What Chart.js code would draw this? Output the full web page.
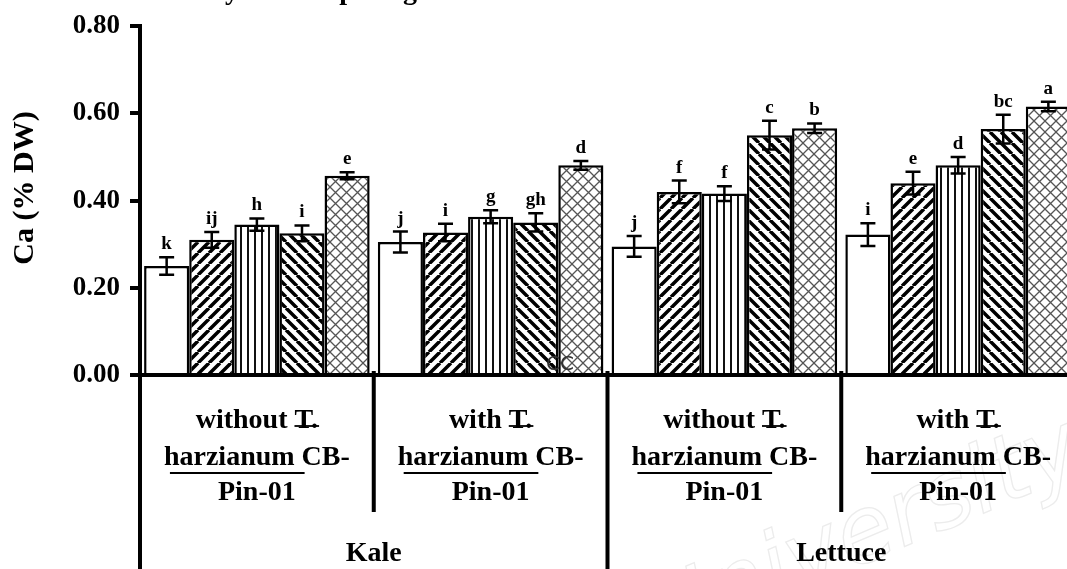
<!DOCTYPE html>
<html>
<head>
<meta charset="utf-8">
<script src="https://cdn.jsdelivr.net/npm/chart.js@4"></script>
<style>
  html, body { margin: 0; padding: 0; background: #fff; overflow: hidden; }
  #wrap { position: relative; width: 1075px; height: 569px; }
</style>
</head>
<body>
<div id="wrap"><canvas id="chart"></canvas></div>
<script>
// categories
const subgroups = ['without', 'with', 'without', 'with'];
const crops = ['Kale', 'Lettuce'];
const treatments = ['T1', 'T2', 'T3', 'T4', 'T5'];
const yTicks = [0, 0.2, 0.4, 0.6, 0.8];

// Ca (% DW) per treatment, one value per subgroup
const t1 = [0.250, 0.305, 0.295, 0.322];
const t2 = [0.310, 0.327, 0.420, 0.440];
const t3 = [0.345, 0.363, 0.416, 0.481];
const t4 = [0.325, 0.350, 0.550, 0.564];
const t5 = [0.457, 0.481, 0.566, 0.616];

// standard errors
const e1 = [0.020, 0.024, 0.024, 0.026];
const e2 = [0.018, 0.020, 0.026, 0.026];
const e3 = [0.014, 0.015, 0.017, 0.019];
const e4 = [0.018, 0.021, 0.033, 0.033];
const e5 = [0.008, 0.010, 0.011, 0.011];

// significance letters
const l1 = ['k', 'j', 'j', 'i'];
const l2 = ['ij', 'i', 'f', 'e'];
const l3 = ['h', 'g', 'f', 'd'];
const l4 = ['i', 'gh', 'c', 'bc'];
const l5 = ['e', 'd', 'b', 'a'];

const serif = '"Liberation Serif", "Times New Roman", serif';

function makePattern(kind) {
  const c = document.createElement('canvas');
  const g = c.getContext('2d');
  const s = 11;
  if (kind === 'vert') { c.width = 7; c.height = 4; } else { c.width = s; c.height = s; }
  g.fillStyle = '#fff';
  g.fillRect(0, 0, c.width, c.height);
  if (kind === 'fwd' || kind === 'back') {
    g.strokeStyle = '#000';
    g.lineWidth = 3.5;
    g.beginPath();
    for (let k = -1; k <= 1; k++) {
      if (kind === 'fwd') { g.moveTo(k * s, s); g.lineTo(k * s + s, 0); }
      else { g.moveTo(k * s, 0); g.lineTo(k * s + s, s); }
    }
    g.stroke();
  } else if (kind === 'vert') {
    g.fillStyle = '#111';
    g.fillRect(2, 0, 2, 4);
  } else if (kind === 'cross') {
    g.strokeStyle = '#555';
    g.lineWidth = 1.3;
    g.beginPath();
    g.moveTo(0, 0); g.lineTo(s, s);
    g.moveTo(s, 0); g.lineTo(0, s);
    g.stroke();
  }
  return g.createPattern(c, 'repeat');
}

const fills = ['#ffffff', makePattern('fwd'), makePattern('vert'), makePattern('back'), makePattern('cross')];
const values = [t1, t2, t3, t4, t5];
const errors = [e1, e2, e3, e4, e5];
const letters = [l1, l2, l3, l4, l5];

const extras = {
  id: 'extras',
  beforeDraw(chart) {
    const ctx = chart.ctx;
    // faint watermark
    ctx.save();
    ctx.translate(660, 650);
    ctx.rotate(-0.4);
    ctx.font = 'italic 92px "DejaVu Sans", sans-serif';
    ctx.strokeStyle = '#ececec';
    ctx.lineWidth = 1.3;
    ctx.strokeText('University', 0, 0);
    ctx.restore();
  },
  afterDatasetsDraw(chart) {
    const ctx = chart.ctx;
    const y = chart.scales.y;
    ctx.save();
    ctx.strokeStyle = '#000';
    ctx.lineWidth = 2.5;
    ctx.fillStyle = '#000';
    ctx.font = 'bold 19px ' + serif;
    ctx.textAlign = 'center';
    ctx.textBaseline = 'alphabetic';
    chart.data.datasets.forEach((ds, i) => {
      const meta = chart.getDatasetMeta(i);
      meta.data.forEach((bar, j) => {
        const v = ds.data[j], e = errors[i][j];
        const yt = y.getPixelForValue(v + e), yb = y.getPixelForValue(v - e);
        ctx.beginPath();
        ctx.moveTo(bar.x, yt); ctx.lineTo(bar.x, yb);
        ctx.moveTo(bar.x - 7.5, yt); ctx.lineTo(bar.x + 7.5, yt);
        ctx.moveTo(bar.x - 7.5, yb); ctx.lineTo(bar.x + 7.5, yb);
        ctx.stroke();
        ctx.fillText(letters[i][j], bar.x, yt - 8);
      });
    });
    // stray mark on the kale bar
    ctx.font = '20px "DejaVu Sans", sans-serif';
    ctx.fillStyle = '#333';
    ctx.textAlign = 'left';
    ctx.fillText('CC', 546, 370);
    ctx.restore();
  },
  afterDraw(chart) {
    const ctx = chart.ctx;
    const x = chart.scales.x;
    const area = chart.chartArea;
    const n = chart.data.labels.length;
    const cw = (area.right - area.left) / n;
    ctx.save();
    ctx.strokeStyle = '#000';
    ctx.fillStyle = '#000';
    ctx.lineWidth = 4;
    // axis extension and dividers
    ctx.beginPath();
    ctx.moveTo(area.left, area.bottom); ctx.lineTo(area.left, chart.height);
    for (let i = 1; i < n; i++) {
      const xx = area.left + cw * i;
      ctx.moveTo(xx, area.bottom - 4);
      ctx.lineTo(xx, i % 2 === 0 ? chart.height : area.bottom + 137);
    }
    ctx.stroke();

    // subgroup labels
    ctx.font = 'bold 28px ' + serif;
    ctx.textBaseline = 'alphabetic';
    ctx.textAlign = 'left';
    ctx.lineWidth = 1.8;
    subgroups.forEach((s, i) => {
      const cx = x.getPixelForValue(i);
      const a = s + ' ', b = 'T.';
      const w1 = ctx.measureText(a + b).width;
      let sx = cx - w1 / 2;
      ctx.fillText(a + b, sx, 428);
      const tx = sx + ctx.measureText(a).width;
      ctx.beginPath();
      ctx.moveTo(tx, 426); ctx.lineTo(tx + ctx.measureText(b).width + 1, 426);
      ctx.stroke();

      const c = 'harzianum', d = ' CB-';
      const w2 = ctx.measureText(c + d).width;
      sx = cx - w2 / 2;
      ctx.fillText(c + d, sx, 465);
      const wc = ctx.measureText(c).width;
      ctx.beginPath();
      ctx.moveTo(sx + 6, 473); ctx.lineTo(sx + wc + 10, 473);
      ctx.stroke();

      const p = 'Pin-01';
      ctx.fillText(p, cx - ctx.measureText(p).width / 2, 500);
    });

    // crop labels
    ctx.textAlign = 'center';
    crops.forEach((cr, k) => {
      const cx = area.left + cw * (2 * k + 1);
      ctx.fillText(cr, cx, 561);
    });

    // y title
    ctx.save();
    ctx.translate(33, 188);
    ctx.rotate(-Math.PI / 2);
    ctx.font = 'bold 30px ' + serif;
    ctx.textAlign = 'center';
    ctx.fillText('Ca (% DW)', 0, 0);
    ctx.restore();

    // cropped title remnants at the very top
    ctx.font = 'bold 28px ' + serif;
    ctx.textAlign = 'center';
    ctx.fillText('y', 232, -1);
    ctx.fillText('p', 347, -1);
    ctx.fillText('g', 410, -1);
    ctx.restore();
  }
};

new Chart(document.getElementById('chart'), {
  type: 'bar',
  data: {
    labels: subgroups.map((s, i) => s + ' T. harzianum CB-Pin-01 (' + crops[i >> 1] + ')'),
    datasets: treatments.map((t, i) => ({
      label: t,
      data: values[i],
      backgroundColor: fills[i],
      borderColor: '#000',
      borderWidth: 2.5,
      borderSkipped: 'bottom',
      categoryPercentage: 0.965,
      barPercentage: 1.0
    }))
  },
  options: {
    responsive: true,
    maintainAspectRatio: false,
    animation: false,
    layout: { padding: { top: 22, left: 0, right: 0, bottom: 0 } },
    plugins: { legend: { display: false }, tooltip: { enabled: false } },
    scales: {
      x: {
        grid: { display: false },
        ticks: { display: false },
        border: { display: true, color: '#000', width: 4 },
        afterFit: (s) => { s.height = 194; }
      },
      y: {
        min: 0,
        max: 0.8,
        afterBuildTicks: (s) => { s.ticks = yTicks.map(v => ({ value: v })); },
        afterFit: (s) => { s.width = 140; },
        grid: { drawOnChartArea: false, drawTicks: true, tickLength: 10, tickWidth: 4, tickColor: '#000', color: '#000', lineWidth: 4 },
        border: { display: true, color: '#000', width: 4 },
        ticks: {
          padding: 10,
          color: '#000',
          font: { family: serif, size: 27, weight: 'bold' },
          callback: (v) => Number(v).toFixed(2)
        }
      }
    }
  },
  plugins: [extras]
});
</script>
</body>
</html>
